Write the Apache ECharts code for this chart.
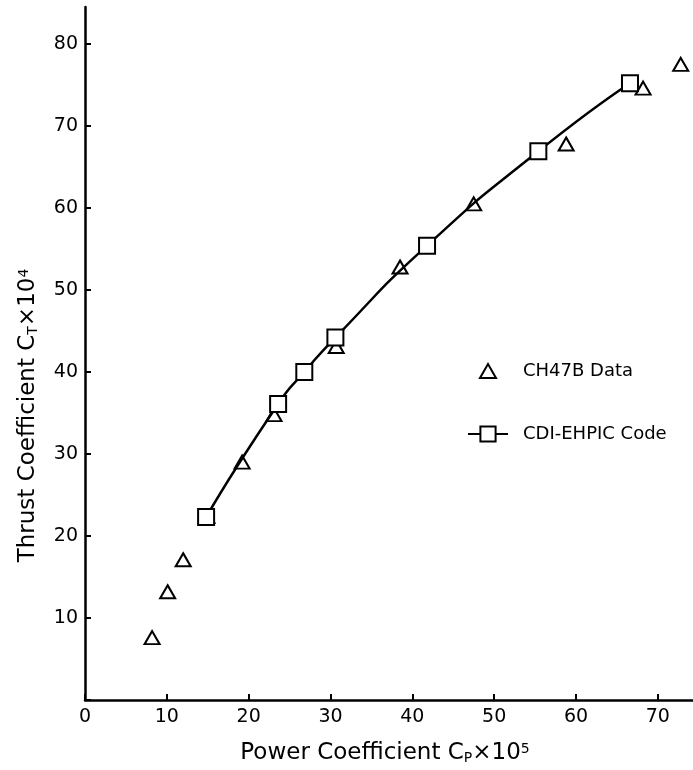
<!DOCTYPE html>
<html>
<head>
<meta charset="utf-8">
<script src="https://cdn.jsdelivr.net/npm/echarts@6/dist/echarts.min.js"></script>
<style>html,body{margin:0;padding:0;background:#fff;}#c{width:693px;height:770px;}</style>
</head>
<body>
<div id="c"></div>
<script>
const xTicks = [0, 10, 20, 30, 40, 50, 60, 70];
const yTicks = [10, 20, 30, 40, 50, 60, 70, 80];
const ch47bData = [[8.2,7.6],[10.1,13.2],[12.0,17.1],[14.9,22.4],[19.2,29.0],[23.1,34.8],[30.7,43.1],[38.5,52.8],[47.5,60.5],[58.8,67.8],[68.2,74.6],[72.8,77.5]];
const cdiCode = [[14.8,22.3],[23.6,36.1],[26.8,40.0],[30.6,44.2],[41.8,55.4],[55.4,66.9],[66.6,75.2]];

const font = 'DejaVu Sans';
const richSS = {
  sub: { fontFamily: font, fontSize: 14, verticalAlign: 'bottom', color: '#000' },
  sup: { fontFamily: font, fontSize: 14, verticalAlign: 'top', color: '#000' }
};
const chart = echarts.init(document.getElementById('c'));
chart.setOption({
  animation: false,
  backgroundColor: '#fff',
  grid: { left: 85, right: 0, top: 7, bottom: 70, containLabel: false },
  legend: [
    {
      orient: 'vertical', left: 474, top: 357,
      itemWidth: 16, itemHeight: 14,
      textStyle: { fontFamily: font, fontSize: 18, color: '#000', padding: [0,0,0,22] },
      data: ['CH47B Data']
    },
    {
      orient: 'vertical', left: 462, top: 420,
      itemWidth: 40, itemHeight: 19,
      textStyle: { fontFamily: font, fontSize: 18, color: '#000', padding: [0,0,0,10] },
      data: ['CDI-EHPIC Code']
    }
  ],
  xAxis: {
    type: 'value', min: 0, max: 74.3, interval: 10,
    name: 'Power Coefficient C{sub|P}×10{sup|5}',
    nameLocation: 'middle', nameGap: 42,
    nameTextStyle: { fontFamily: font, fontSize: 23, color: '#000', padding: [0, 8, 0, 0], rich: richSS },
    axisLine: { lineStyle: { color: '#000', width: 2.5 } },
    axisTick: { inside: true, length: 6, lineStyle: { color: '#000', width: 2 } },
    axisLabel: { fontFamily: font, fontSize: 19, color: '#000', margin: 8,
      formatter: v => xTicks.includes(v) ? String(v) : '', showMaxLabel: false },
    splitLine: { show: false }
  },
  yAxis: {
    type: 'value', min: 0, max: 84.5, interval: 10,
    name: 'Thrust Coefficient C{sub|T}×10{sup|4}',
    nameLocation: 'middle', nameGap: 45,
    nameTextStyle: { fontFamily: font, fontSize: 23, color: '#000', padding: [0, 124, 0, 0], rich: richSS },
    axisLine: { lineStyle: { color: '#000', width: 2.5 } },
    axisTick: { inside: true, length: 6, lineStyle: { color: '#000', width: 2 } },
    axisLabel: { fontFamily: font, fontSize: 19, color: '#000', margin: 7,
      formatter: v => yTicks.includes(v) ? String(v) : '', showMaxLabel: false },
    splitLine: { show: false }
  },
  series: [
    {
      name: 'CH47B Data', type: 'scatter', data: ch47bData,
      symbol: 'triangle', symbolSize: [15, 13],
      itemStyle: { color: '#fff', borderColor: '#000', borderWidth: 2, opacity: 1 }, z: 3
    },
    {
      name: 'CDI-EHPIC Code', type: 'line', data: cdiCode, smooth: 0.6,
      symbol: 'rect', symbolSize: 16, showAllSymbol: true,
      lineStyle: { color: '#000', width: 2.5 },
      itemStyle: { color: '#fff', borderColor: '#000', borderWidth: 2 }, z: 4
    }
  ]
});
</script>
</body>
</html>
